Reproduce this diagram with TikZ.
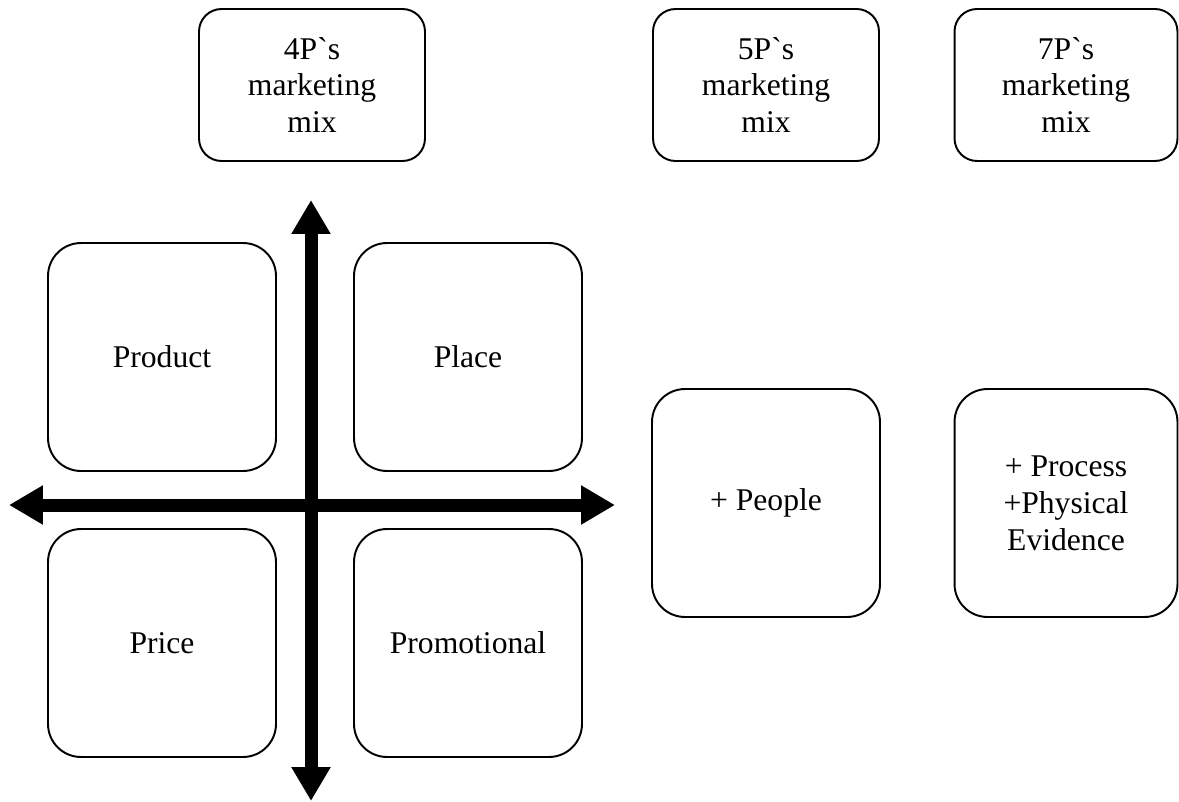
\documentclass[tikz,border=0pt]{standalone}
\usepackage{fontspec}
\setmainfont{Liberation Serif}[Ligatures=TeXOff]
\usetikzlibrary{arrows.meta}
\tikzset{
  mixbox/.style={draw, line width=1.1pt, rounded corners=0.45cm, align=center,
    minimum width=4.52cm, minimum height=3.04cm, inner sep=0pt,
    font=\fontsize{18}{21}\selectfont},
  pbox/.style={draw, line width=1.1pt, rounded corners=0.66cm, align=center,
    minimum width=4.56cm, minimum height=4.56cm, inner sep=0pt,
    font=\fontsize{18}{21}\selectfont},
  axis/.style={line width=7.4pt, -{Triangle[length=0.68cm, width=0.74cm]}}
}
\begin{document}
\begin{tikzpicture}[x=0.02cm, y=-0.02cm]
    \useasboundingbox (0,0) rectangle (1179,801);

    % Titoli in alto
    \node[mixbox] (mix4) at (312, 85) {4P`s\\marketing\\mix};
    \node[mixbox] (mix5) at (766, 85) {5P`s\\marketing\\mix};
    \node[mixbox, minimum width=4.46cm] (mix7) at (1066, 85) {7P`s\\marketing\\mix};

    % Le quattro P
    \node[pbox] (product) at (162, 357) {Product};
    \node[pbox] (place) at (468, 357) {Place};
    \node[pbox] (price) at (162, 643) {Price};
    \node[pbox] (promo) at (468, 643) {Promotional};

    % Assi
    \coordinate (top) at (311, 200);
    \coordinate (bottom) at (311, 801);
    \coordinate (left) at (9, 505);
    \coordinate (right) at (615, 505);
    \coordinate (centre) at (311, 505);
    \draw[axis] (centre) -- (top);
    \draw[axis] (centre) -- (bottom);
    \draw[axis] (centre) -- (left);
    \draw[axis] (centre) -- (right);

    % Aggiunte
    \node[pbox] (people) at (766, 503) {+ People};
    \node[pbox, minimum width=4.46cm] (process) at (1066, 503) {+ Process\\+Physical\\Evidence};
\end{tikzpicture}
\end{document}
